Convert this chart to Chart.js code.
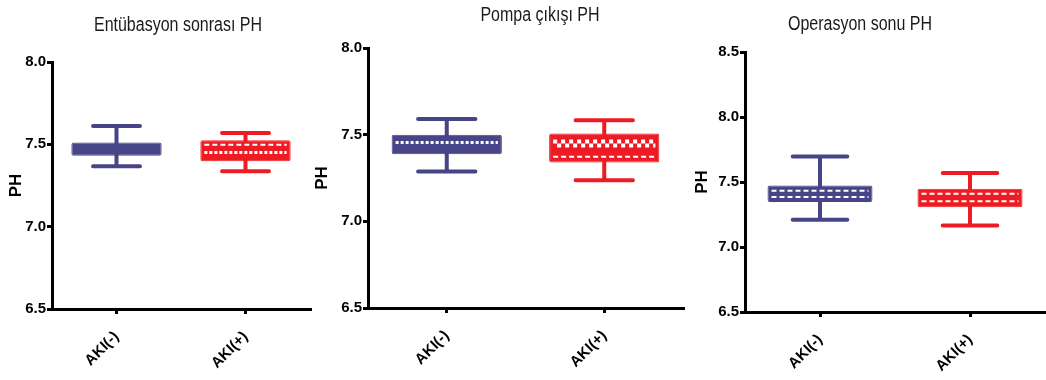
<!DOCTYPE html>
<html>
<head>
<meta charset="utf-8">
<script src="https://cdn.jsdelivr.net/npm/chart.js@4/dist/chart.umd.min.js"></script>
<style>
  html, body { margin: 0; padding: 0; background: #fff; }
  #wrap { position: relative; width: 1046px; height: 380px; background: #fff; overflow: hidden; }
  canvas { position: absolute; top: 0; }
</style>
</head>
<body>
<div id="wrap">
  <canvas id="c1" width="320" height="380" style="left:0px"></canvas>
  <canvas id="c2" width="385" height="380" style="left:305px"></canvas>
  <canvas id="c3" width="356" height="380" style="left:690px"></canvas>
</div>
<script>
// Groups on the x axis
const groups = ['AKI(-)', 'AKI(+)'];

// Entübasyon sonrası PH
const entubasyonMin    = [7.367, 7.337];
const entubasyonQ1     = [7.430, 7.398];
const entubasyonQ3     = [7.511, 7.525];
const entubasyonMax    = [7.612, 7.569];
const entubasyonMedian = [null, 7.497];
const entubasyonMean   = [null, 7.451];

// Pompa çıkışı PH
const pompaMin    = [7.287, 7.237];
const pompaQ1     = [7.387, 7.339];
const pompaQ3     = [7.499, 7.507];
const pompaMax    = [7.590, 7.583];
const pompaMedian = [7.455, 7.449];
const pompaMean   = [null, 7.372];

// Operasyon sonu PH
const operasyonMin    = [7.210, 7.166];
const operasyonQ1     = [7.346, 7.305];
const operasyonQ3     = [7.474, 7.448];
const operasyonMax    = [7.697, 7.569];
const operasyonMedian = [7.433, 7.410];
const operasyonMean   = [7.385, 7.351];

// Y axis ranges [min, max] and tick step
const entubasyonRange = [6.5, 8.0];
const pompaRange      = [6.5, 8.0];
const operasyonRange  = [6.5, 8.5];
const phStep = 0.5;

const panelTitles = ['Entübasyon sonrası PH', 'Pompa çıkışı PH', 'Operasyon sonu PH'];
const yTitle = 'PH';

const BLUE = '#474487';
const RED = '#ed1c24';
const groupColors = [BLUE, RED];

const SANS = "'Liberation Sans', Arial, sans-serif";

// Whiskers (behind the box) and white centre lines (on top of the box)
const boxWhiskers = {
  id: 'boxWhiskers',
  beforeDatasetsDraw(chart, args, opts) {
    const ctx = chart.ctx, y = chart.scales.y;
    const bars = chart.getDatasetMeta(0).data;
    ctx.save();
    ctx.lineCap = 'round';
    ctx.lineWidth = 4;
    bars.forEach((bar, i) => {
      const half = bar.width * 0.26;
      const yMin = y.getPixelForValue(opts.min[i]);
      const yMax = y.getPixelForValue(opts.max[i]);
      ctx.strokeStyle = groupColors[i];
      ctx.beginPath();
      ctx.moveTo(bar.x, yMin); ctx.lineTo(bar.x, yMax);
      ctx.moveTo(bar.x - half, yMin); ctx.lineTo(bar.x + half, yMin);
      ctx.moveTo(bar.x - half, yMax); ctx.lineTo(bar.x + half, yMax);
      ctx.stroke();
    });
    ctx.restore();
  },
  afterDatasetsDraw(chart, args, opts) {
    const ctx = chart.ctx, y = chart.scales.y;
    const bars = chart.getDatasetMeta(0).data;
    ctx.save();
    ctx.strokeStyle = '#ffffff';
    ctx.lineCap = 'butt';
    const drawLine = (x0, x1, py, style) => {
      if (style === 'checker') {
        ctx.lineWidth = 4;
        ctx.setLineDash([4, 4]);
        ctx.lineDashOffset = 0;
        ctx.beginPath(); ctx.moveTo(x0, py - 2); ctx.lineTo(x1, py - 2); ctx.stroke();
        ctx.lineDashOffset = 4;
        ctx.beginPath(); ctx.moveTo(x0, py + 2); ctx.lineTo(x1, py + 2); ctx.stroke();
        ctx.lineDashOffset = 0;
        return;
      }
      if (style === 'zigzag') {
        ctx.lineWidth = 3;
        ctx.setLineDash([3, 2]);
      } else {
        ctx.lineWidth = 2;
        ctx.setLineDash([5, 3]);
      }
      ctx.beginPath(); ctx.moveTo(x0, py); ctx.lineTo(x1, py); ctx.stroke();
    };
    bars.forEach((bar, i) => {
      const x0 = bar.x - bar.width / 2 + 4;
      const x1 = bar.x + bar.width / 2 - 4;
      [['median', opts.median], ['mean', opts.mean]].forEach(([key, arr]) => {
        const v = arr[i];
        if (v === null || v === undefined) return;
        drawLine(x0, x1, y.getPixelForValue(v), opts.styles[key][i]);
      });
    });
    ctx.restore();
  }
};

// Heading above each panel, set in a condensed style
const panelHeading = {
  id: 'panelHeading',
  afterDraw(chart, args, opts) {
    const ctx = chart.ctx;
    ctx.save();
    ctx.translate(opts.x, opts.y);
    ctx.scale(0.8, 1);
    ctx.font = `normal 20px ${SANS}`;
    ctx.fillStyle = '#1a1a1a';
    ctx.textAlign = 'center';
    ctx.textBaseline = 'middle';
    ctx.fillText(opts.text, 0, 0);
    ctx.restore();
  }
};

function makePanel(id, p) {
  const q1 = p.q1, q3 = p.q3;
  return new Chart(document.getElementById(id), {
    type: 'bar',
    data: {
      labels: groups,
      datasets: [{
        data: q1.map((v, i) => [v, q3[i]]),
        backgroundColor: groupColors,
        borderColor: groupColors,
        borderWidth: 1,
        borderRadius: 2,
        borderSkipped: false,
        barPercentage: 0.7,
        categoryPercentage: 1.0
      }]
    },
    options: {
      responsive: false,
      devicePixelRatio: 1,
      animation: false,
      events: [],
      layout: { padding: { left: 0, right: p.padRight, top: p.padTop, bottom: 0 } },
      plugins: {
        legend: { display: false },
        tooltip: { enabled: false },
        title: { display: false },
        boxWhiskers: {
          min: p.min, max: p.max, median: p.median, mean: p.mean, styles: p.styles
        },
        panelHeading: { text: p.title, x: p.titleX, y: p.titleY }
      },
      scales: {
        x: {
          offset: true,
          grid: { display: true, drawOnChartArea: false, drawTicks: true, tickLength: 5, lineWidth: 3, color: '#000', offset: false },
          border: { display: true, color: '#000', width: 3 },
          ticks: {
            color: '#000',
            font: { family: SANS, size: 15, weight: 'bold' },
            minRotation: 45, maxRotation: 45, padding: 14
          },
          afterFit(scale) { scale.height = p.xHeight; }
        },
        y: {
          min: p.range[0], max: p.range[1],
          grid: { display: true, drawOnChartArea: false, drawTicks: true, tickLength: 5, lineWidth: 3, color: '#000' },
          border: { display: true, color: '#000', width: 3 },
          ticks: {
            stepSize: phStep,
            color: '#000',
            font: { family: SANS, size: 15, weight: 'bold' },
            padding: 1,
            callback: v => Number(v).toFixed(1)
          },
          title: {
            display: true, text: yTitle, color: '#000',
            font: { family: SANS, size: 17, weight: 'bold' },
            padding: { top: p.yTitlePad, bottom: 0 }
          },
          afterFit(scale) { scale.width = p.yWidth; }
        }
      }
    },
    plugins: [boxWhiskers, panelHeading]
  });
}

makePanel('c1', {
  title: panelTitles[0], titleX: 178, titleY: 25,
  range: entubasyonRange,
  min: entubasyonMin, q1: entubasyonQ1, q3: entubasyonQ3, max: entubasyonMax,
  median: entubasyonMedian, mean: entubasyonMean,
  styles: { median: ['dash', 'dash'], mean: ['dash', 'zigzag'] },
  padTop: 62, padRight: 10, yWidth: 52, xHeight: 71, yTitlePad: 6
});

makePanel('c2', {
  title: panelTitles[1], titleX: 235, titleY: 15,
  range: pompaRange,
  min: pompaMin, q1: pompaQ1, q3: pompaQ3, max: pompaMax,
  median: pompaMedian, mean: pompaMean,
  styles: { median: ['zigzag', 'checker'], mean: ['dash', 'dash'] },
  padTop: 48, padRight: 7, yWidth: 63, xHeight: 72, yTitlePad: 7
});

makePanel('c3', {
  title: panelTitles[2], titleX: 170, titleY: 24,
  range: operasyonRange,
  min: operasyonMin, q1: operasyonQ1, q3: operasyonQ3, max: operasyonMax,
  median: operasyonMedian, mean: operasyonMean,
  styles: { median: ['dash', 'dash'], mean: ['dash', 'dash'] },
  padTop: 52, padRight: 1, yWidth: 55, xHeight: 68, yTitlePad: 2
});
</script>
</body>
</html>
